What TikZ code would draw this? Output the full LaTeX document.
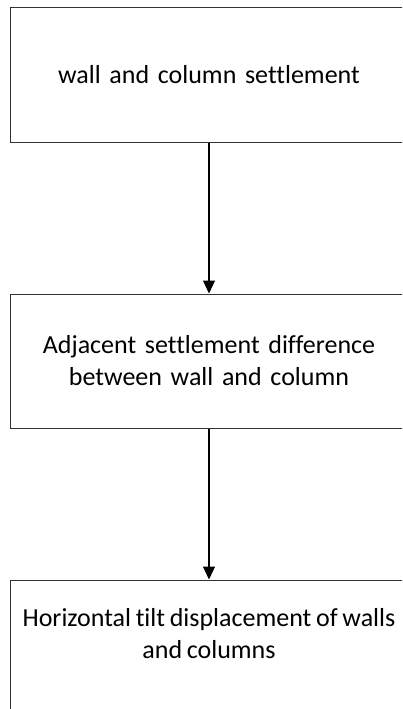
\documentclass[tikz,border=0pt]{standalone}
\usepackage{fontspec}
\setmainfont{Carlito}[Ligatures=NoCommon, WordSpace=0.8]
\usetikzlibrary{arrows.meta,positioning}

\begin{document}
\begin{tikzpicture}[x=1pt, y=1pt,
    stage/.style={draw=black!80, line width=1pt, minimum width=398pt, minimum height=134pt, text width=398pt, align=center, font=\fontsize{26}{32}\selectfont, inner sep=0pt},
    raised/.style={align=center, font=\fontsize{26}{32}\selectfont, yshift=13pt},
    arrow/.style={-{Triangle[length=13pt,width=12pt]}, line width=1.1pt}
]

% Page frame
\useasboundingbox (0,0) rectangle (402,-709);
\clip (0,0) rectangle (402,-709);

% Settlement chain
\node[stage] (settle) at (209,-75) {wall and column settlement};
\node[stage, below=151pt of settle] (diff) {Adjacent settlement difference\\between wall and column};
\node[stage, below=151pt of diff, label={[raised]center:{Horizontal tilt displacement of walls\\and columns}}] (tilt) {};

% Arrows between stages
\draw[arrow] (settle) -- (diff);
\draw[arrow] (diff) -- (tilt);

\end{tikzpicture}
\end{document}
